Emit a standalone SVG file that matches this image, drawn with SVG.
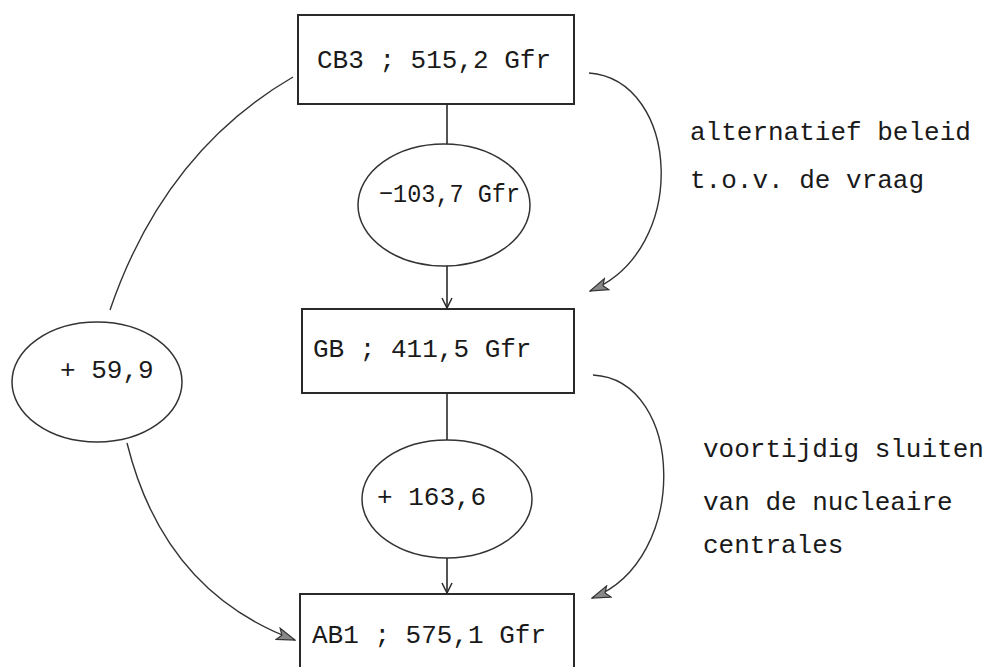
<svg xmlns="http://www.w3.org/2000/svg" width="993" height="667" viewBox="0 0 993 667">
<style>
.box{fill:none;stroke:#2a2a2a;stroke-width:2}
.ell{fill:none;stroke:#333;stroke-width:1.5}
.ln{fill:none;stroke:#2a2a2a;stroke-width:1.6}
.cv{fill:none;stroke:#333;stroke-width:1.4}
.t{font-family:"Liberation Mono","Courier New",monospace;font-size:26px;fill:#1a1a1a}
</style>
<defs>
<marker id="open" viewBox="0 0 12 12" refX="11" refY="6" markerWidth="12" markerHeight="12" markerUnits="userSpaceOnUse" orient="auto">
<path d="M1,1 L11,6 L1,11" fill="none" stroke="#2a2a2a" stroke-width="1.5"/>
</marker>
<marker id="fill" viewBox="0 0 20 14" refX="19" refY="7" markerWidth="20" markerHeight="14" markerUnits="userSpaceOnUse" orient="auto">
<path d="M1,1 L19,7 L1,13 L5,7 Z" fill="#888" stroke="#333" stroke-width="1.2"/>
</marker>
</defs>
<g id="node-cb3">
<rect class="box" x="298" y="15" width="276" height="89"/>
<text class="t" x="317" y="68">CB3 ; 515,2 Gfr</text>
</g>
<g id="node-e1">
<ellipse class="ell" cx="444" cy="205" rx="86" ry="61"/>
<text class="t" x="379" y="202" textLength="141" lengthAdjust="spacingAndGlyphs">−103,7 Gfr</text>
</g>
<g id="node-gb">
<rect class="box" x="302" y="309" width="272" height="84"/>
<text class="t" x="313" y="357">GB ; 411,5 Gfr</text>
</g>
<g id="node-e2">
<ellipse class="ell" cx="447" cy="499" rx="85" ry="59"/>
<text class="t" x="377" y="505">+ 163,6</text>
</g>
<g id="node-ab1">
<rect class="box" x="300" y="594" width="274" height="90"/>
<text class="t" x="312" y="643">AB1 ; 575,1 Gfr</text>
</g>
<g id="node-e3">
<ellipse class="ell" cx="97" cy="382" rx="85" ry="60"/>
<text class="t" x="60" y="378">+ 59,9</text>
</g>
<g id="label-1">
<text class="t" x="690" y="140">alternatief beleid</text>
<text class="t" x="690" y="188">t.o.v. de vraag</text>
</g>
<g id="label-2">
<text class="t" x="703" y="457">voortijdig sluiten</text>
<text class="t" x="703" y="510">van de nucleaire</text>
<text class="t" x="703" y="553">centrales</text>
</g>
<g id="connectors">
<path class="ln" d="M447,104 L447,144"/>
<path class="ln" d="M447,266 L447,308" marker-end="url(#open)"/>
<path class="ln" d="M447,393 L447,440"/>
<path class="ln" d="M447,558 L447,593" marker-end="url(#open)"/>
<path class="cv" d="M110,310 Q164,152 293,77"/>
<path class="cv" d="M127,443 Q164,592 295,640" marker-end="url(#fill)"/>
<path class="cv" d="M589,73 C680,80 690,250 590,291" marker-end="url(#fill)"/>
<path class="cv" d="M593,375 C685,380 690,560 592,598" marker-end="url(#fill)"/>
</g>
</svg>
